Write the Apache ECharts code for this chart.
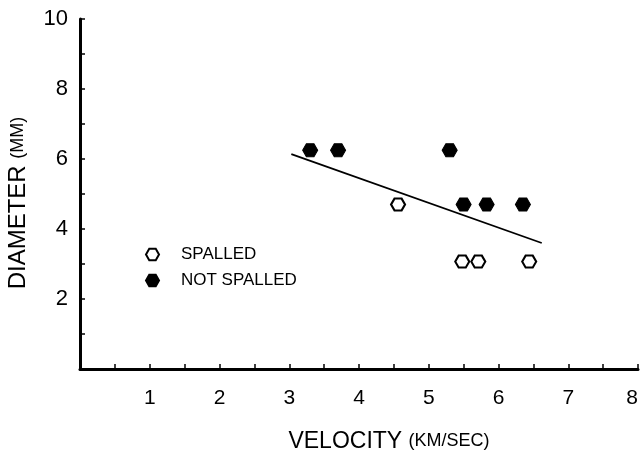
<!DOCTYPE html>
<html>
<head>
<meta charset="utf-8">
<script src="https://cdn.jsdelivr.net/npm/echarts@6/dist/echarts.min.js"></script>
<style>
  html, body { margin: 0; padding: 0; background: #fff; }
  #chart { width: 644px; height: 454px; }
</style>
</head>
<body>
<div id="chart"></div>
<script>
// velocity (km/sec), diameter (mm)
const spalled = [[4.56, 4.7], [5.48, 3.07], [5.71, 3.07], [6.44, 3.07]];
const notSpalled = [[3.3, 6.25], [3.7, 6.25], [5.3, 6.25], [5.5, 4.7], [5.83, 4.7], [6.35, 4.7]];
const fitLine = [[3.03, 6.14], [6.62, 3.6]];
const xTickLabels = ['1', '2', '3', '4', '5', '6', '7', '8'];
const yTickLabels = ['2', '4', '6', '8', '10'];

const hexagon = 'path://M-1,0 L-0.5,-0.866 L0.5,-0.866 L1,0 L0.5,0.866 L-0.5,0.866 Z';
const font = 'Liberation Sans';

const chart = echarts.init(document.getElementById('chart'));

const option = {
  animation: false,
  backgroundColor: '#fff',
  textStyle: { fontFamily: font, color: '#000' },
  grid: { left: 80, right: 6, top: 19, bottom: 85, containLabel: false, outerBoundsMode: 'none' },
  legend: {
    left: 140,
    top: 241,
    orient: 'vertical',
    itemGap: 9,
    itemWidth: 13,
    itemHeight: 12,
    textStyle: { fontFamily: font, fontSize: 17, color: '#000', padding: [0, 0, 0, 17] },
    data: ['SPALLED', 'NOT SPALLED']
  },
  xAxis: {
    type: 'value',
    min: 0,
    max: 8,
    interval: 0.5,
    splitLine: { show: false },
    axisLine: { lineStyle: { color: '#000', width: 3 } },
    axisTick: { inside: true, length: 5, lineStyle: { color: '#000', width: 1.5 } },
    axisLabel: {
      margin: 19,
      fontSize: 21,
      color: '#000',
      fontFamily: font,
      alignMaxLabel: 'right',
      formatter: v => (xTickLabels.includes(String(v)) ? String(v) : '')
    },
    name: '{a|VELOCITY }{b|(KM/SEC)}',
    nameLocation: 'middle',
    nameGap: 61,
    nameTextStyle: {
      padding: [0, 0, 0, 60],
      rich: {
        a: { fontSize: 23, fontFamily: font, color: '#000' },
        b: { fontSize: 18, fontFamily: font, color: '#000' }
      }
    }
  },
  yAxis: {
    type: 'value',
    min: 0,
    max: 10,
    interval: 1,
    splitLine: { show: false },
    axisLine: { lineStyle: { color: '#000', width: 3 } },
    axisTick: { inside: true, length: 5, lineStyle: { color: '#000', width: 1.5 } },
    axisLabel: {
      margin: 12,
      fontSize: 22,
      color: '#000',
      fontFamily: font,
      formatter: v => (yTickLabels.includes(String(v)) ? String(v) : '')
    },
    name: '{a|DIAMETER }{b|(MM)}',
    nameLocation: 'middle',
    nameGap: 50,
    nameTextStyle: {
      padding: [0, 18, 0, 0],
      rich: {
        a: { fontSize: 24, fontFamily: font, color: '#000' },
        b: { fontSize: 18, fontFamily: font, color: '#000' }
      }
    }
  },
  series: [
    {
      name: 'fit',
      type: 'line',
      data: fitLine,
      symbol: 'none',
      lineStyle: { color: '#000', width: 1.8 },
      z: 1
    },
    {
      name: 'SPALLED',
      type: 'scatter',
      data: spalled,
      symbol: hexagon,
      symbolSize: [14, 12],
      itemStyle: { color: '#fff', borderColor: '#000', borderWidth: 2, opacity: 1 },
      z: 3
    },
    {
      name: 'NOT SPALLED',
      type: 'scatter',
      data: notSpalled,
      symbol: hexagon,
      symbolSize: [15, 13],
      itemStyle: { color: '#000', borderColor: '#000', borderWidth: 1, opacity: 1 },
      z: 3
    }
  ]
};

chart.setOption(option);
</script>
</body>
</html>
